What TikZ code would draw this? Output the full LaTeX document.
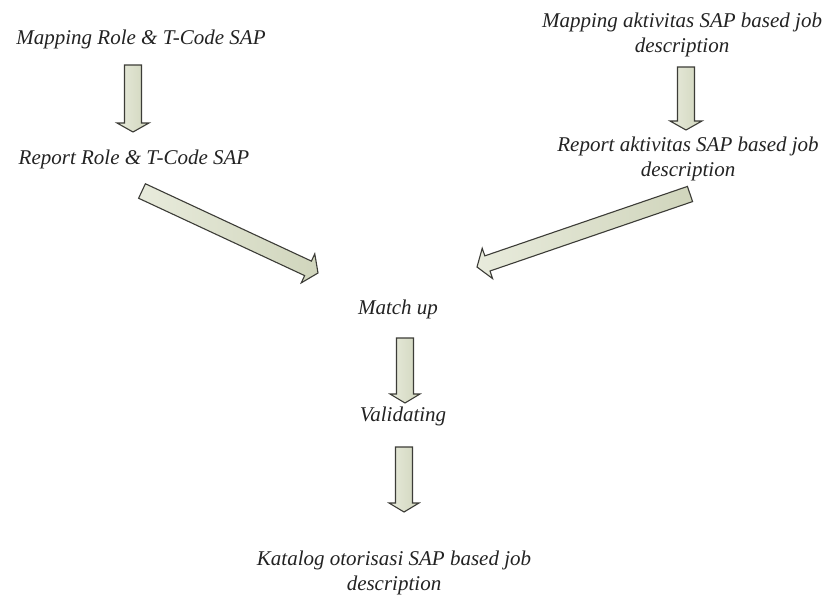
\documentclass[tikz,border=0pt]{standalone}
\usepackage{fontspec}
\setmainfont{Liberation Serif}
\usetikzlibrary{calc}
\definecolor{arrowlight}{RGB}{232,235,220}
\definecolor{arrowdark}{RGB}{208,213,188}
\definecolor{arrowline}{RGB}{60,60,55}
\definecolor{txt}{RGB}{35,35,35}
\tikzset{
  lbl/.style={font=\fontsize{21}{25.5}\selectfont\itshape, text=txt, align=center, inner sep=0pt},
  blockarrow/.style={left color=arrowlight, right color=arrowdark, draw=arrowline, line width=1.1pt, line join=miter}
}
\newcommand\blockarr[5]{% tail, tip, shaft half, head half, head length
  \coordinate (ba-c) at ($(#2)!#5!(#1)$);
  \draw[blockarrow] ($(#1)!#3!90:(#2)$) -- ($(ba-c)!#3!90:(#2)$) -- ($(ba-c)!#4!90:(#2)$)
    -- (#2) -- ($(ba-c)!#4!-90:(#2)$) -- ($(ba-c)!#3!-90:(#2)$) -- ($(#1)!#3!-90:(#2)$) -- cycle;
}
\begin{document}
\begin{tikzpicture}[x=1pt,y=-1pt]
\useasboundingbox (0,0) rectangle (828,600);
\fill[white] (0,0) rectangle (828,600);

\node[lbl] (map1) at (141,39) {Mapping Role \& T-Code SAP};
\node[lbl] (map2) at (682,35) {Mapping aktivitas SAP based job\\description};
\node[lbl] (rep1) at (134,159) {Report Role \& T-Code SAP};
\node[lbl] (rep2) at (688,159) {Report aktivitas SAP based job\\description};
\node[lbl] (match) at (398,309) {Match up};
\node[lbl] (valid) at (403,416) {Validating};
\node[lbl] (kat) at (394,573) {Katalog otorisasi SAP based job\\description};

\coordinate (a1s) at (133,65);  \coordinate (a1e) at (133,132);
\coordinate (a2s) at (686,67);  \coordinate (a2e) at (686,130);
\coordinate (a3s) at (142,191); \coordinate (a3e) at (318,273);
\coordinate (a4s) at (690,194); \coordinate (a4e) at (477,267);
\coordinate (a5s) at (405,338); \coordinate (a5e) at (405,403);
\coordinate (a6s) at (404,447); \coordinate (a6e) at (404,512);

\blockarr{a1s}{a1e}{8.5pt}{16pt}{9pt}
\blockarr{a2s}{a2e}{8.5pt}{16pt}{9pt}
\blockarr{a3s}{a3e}{8pt}{16pt}{11pt}
\blockarr{a4s}{a4e}{8pt}{16pt}{11pt}
\blockarr{a5s}{a5e}{8.5pt}{15pt}{9pt}
\blockarr{a6s}{a6e}{8.5pt}{15pt}{9pt}
\end{tikzpicture}
\end{document}
